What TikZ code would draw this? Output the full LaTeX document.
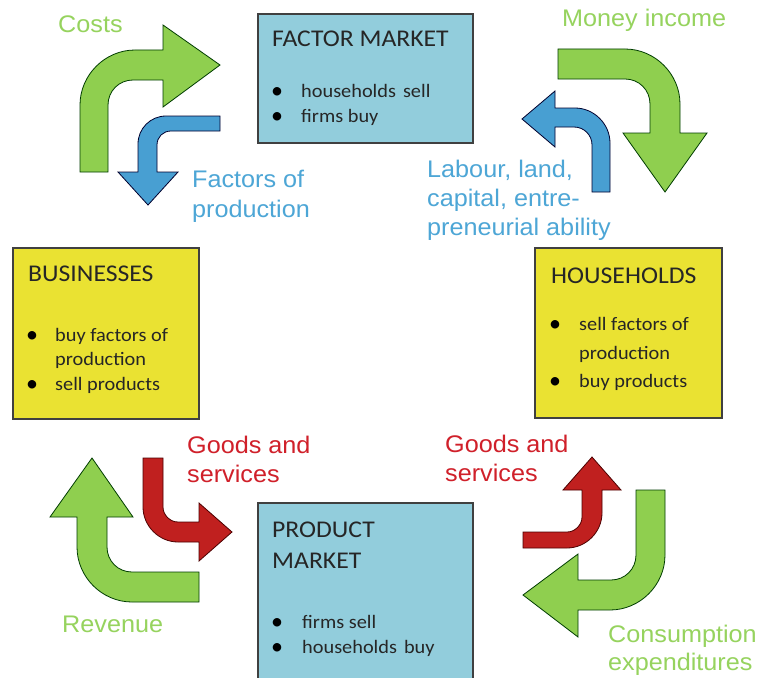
\documentclass[tikz,border=0pt]{standalone}
\usepackage{fontspec}
\usepackage{graphicx}
\setmainfont{Liberation Sans}
\newfontfamily\boxfont{Carlito}
\newcommand{\lstretch}[1]{\scalebox{1.05}[1]{#1}}
\newcommand{\bstretch}[1]{\scalebox{1.07}[1]{#1}}
\definecolor{boxblue}{HTML}{92CDDC}
\definecolor{boxyellow}{HTML}{EAE232}
\definecolor{agreen}{HTML}{8FCF4F}
\definecolor{ablue}{HTML}{489FD2}
\definecolor{ared}{HTML}{C0201F}
\definecolor{tgreen}{HTML}{96D35E}
\definecolor{tblue}{HTML}{4DA6D6}
\definecolor{tred}{HTML}{D0202A}
\tikzset{
  mbox/.style={draw=black!75, line width=1.1pt, inner sep=0pt, outer sep=0pt},
  labtext/.style={anchor=base west, inner sep=0pt, font=\fontsize{24}{29}\selectfont},
  boxtitle/.style={anchor=base west, inner sep=0pt, text=black!85, font=\boxfont\fontsize{24}{29}\selectfont},
  boxitem/.style={anchor=base west, inner sep=0pt, text=black!85, font=\boxfont\fontsize{19}{24}\selectfont},
  bul/.style={anchor=base, inner sep=0pt, text=black, font=\boxfont\fontsize{24}{24}\selectfont},
  garrow/.style={fill=agreen, draw=black!60!green!60!black, line width=0.8pt, line join=miter},
  barrow/.style={fill=ablue, draw=black!55!blue!40!black, line width=0.8pt, line join=miter},
  rarrow/.style={fill=ared, draw=black!70!red, line width=0.8pt, line join=miter},
}
\begin{document}
\begin{tikzpicture}[x=1pt, y=-1pt]
\useasboundingbox (0,0) rectangle (759,677);
\fill[white] (0,0) rectangle (759,677);

% boxes
\node[mbox, fill=boxblue, minimum width=215pt, minimum height=129pt] (factor) at (365.5,78.5) {};
\node[mbox, fill=boxyellow, minimum width=186pt, minimum height=171pt] (business) at (106,333.5) {};
\node[mbox, fill=boxyellow, minimum width=187pt, minimum height=170pt] (household) at (628.5,333) {};
\node[mbox, fill=boxblue, minimum width=215pt, minimum height=187pt] (product) at (365.5,596.5) {};

% arrows
% Costs (green, top left)
\draw[garrow] (80,172) -- (80,105) .. controls (80,75) and (105,50) .. (135,50) -- (163,50) -- (163,25) -- (220,65) -- (163,107) -- (163,80) -- (133,80) .. controls (119,80) and (108,91) .. (108,105) -- (108,172) -- cycle;
% Factors of production (blue, top left)
\draw[barrow] (220,116) -- (166,116) .. controls (150.5,116) and (138,128.5) .. (138,144) -- (138,172) -- (118,172) -- (148,205) -- (178,172) -- (157,172) -- (157,145) .. controls (157,137) and (163,131) .. (171,131) -- (220,131) -- cycle;
% Money income (green, top right)
\draw[garrow] (558,49) -- (625,49) .. controls (655,49) and (680,74) .. (680,104) -- (680,133) -- (707,133) -- (665,192) -- (623,133) -- (650,133) -- (650,104) .. controls (650,90) and (639,79) .. (625,79) -- (558,79) -- cycle;
% Labour (blue, top right)
\draw[barrow] (592,192) -- (592,145) .. controls (592,135) and (584,127) .. (574,127) -- (555,127) -- (555,147) -- (522,119) -- (555,91) -- (555,108) -- (575,108) .. controls (594,108) and (610,124) .. (610,143) -- (610,192) -- cycle;
% Revenue (green, bottom left)
\draw[garrow] (199,572) -- (132,572) .. controls (118,572) and (107,561) .. (107,547) -- (107,517) -- (133,517) -- (92,458) -- (50,517) -- (77,517) -- (77,547) .. controls (77,577) and (102,602) .. (132,602) -- (199,602) -- cycle;
% Goods and services (red, bottom left)
\draw[rarrow] (143,458) -- (163,458) -- (163,507) .. controls (163,515) and (170,522) .. (178,522) -- (199,522) -- (199,503) -- (232,532) -- (199,561) -- (199,542) -- (178,542) .. controls (159,542) and (143,526) .. (143,507) -- cycle;
% Goods and services (red, bottom right)
\draw[rarrow] (523,532) -- (567,532) .. controls (575,532) and (582,525) .. (582,517) -- (582,490) -- (563,490) -- (592,457) -- (621,490) -- (602,490) -- (602,513) .. controls (602,532) and (586,548) .. (567,548) -- (523,548) -- cycle;
% Consumption (green, bottom right)
\draw[garrow] (636,490) -- (665,490) -- (665,555) .. controls (665,585) and (640,610) .. (610,610) -- (578,610) -- (578,637) -- (523,595) -- (578,554) -- (578,580) -- (611,580) .. controls (625,580) and (636,569) .. (636,555) -- cycle;

% box texts
\node[boxtitle] (fmt) at (272,47) {\bstretch{FACTOR MARKET}};
\node[bul] (fmb1) at (277,98) {\textbullet};
\node[boxitem] (fmi1) at (301,97) {\bstretch{households\hspace{0.12em} sell}};
\node[bul] (fmb2) at (277,123) {\textbullet};
\node[boxitem] (fmi2) at (301,122) {\bstretch{firms buy}};

\node[boxtitle] (bt) at (28,281) {\bstretch{BUSINESSES}};
\node[bul] (bb1) at (32,342) {\textbullet};
\node[boxitem] (bi1) at (55,341) {\bstretch{buy factors of}};
\node[boxitem] (bi2) at (55,365) {\bstretch{production}};
\node[bul] (bb2) at (32,391) {\textbullet};
\node[boxitem] (bi3) at (55,390) {\bstretch{sell products}};

\node[boxtitle] (ht) at (551,283) {\bstretch{HOUSEHOLDS}};
\node[bul] (hb1) at (555,331) {\textbullet};
\node[boxitem] (hi1) at (579,330) {\bstretch{sell factors of}};
\node[boxitem] (hi2) at (579,359) {\bstretch{production}};
\node[bul] (hb2) at (555,388) {\textbullet};
\node[boxitem] (hi3) at (579,387) {\bstretch{buy products}};

\node[boxtitle] (pt1) at (272,537) {\bstretch{PRODUCT}};
\node[boxtitle] (pt2) at (272,568) {\bstretch{MARKET}};
\node[bul] (pb1) at (277,629) {\textbullet};
\node[boxitem] (pi1) at (302,628) {\bstretch{firms sell}};
\node[bul] (pb2) at (277,654) {\textbullet};
\node[boxitem] (pi2) at (302,653) {\bstretch{households\hspace{0.12em} buy}};

% flow labels
\node[labtext, text=tgreen] (costs) at (58,33) {\lstretch{Costs}};
\node[labtext, text=tblue] (fop1) at (192,187) {\lstretch{Factors of}};
\node[labtext, text=tblue] (fop2) at (192,217) {\lstretch{production}};
\node[labtext, text=tgreen] (money) at (562,27) {\lstretch{Money income}};
\node[labtext, text=tblue] (lab1) at (427,177) {\lstretch{Labour, land,}};
\node[labtext, text=tblue] (lab2) at (427,206) {\lstretch{capital, entre-}};
\node[labtext, text=tblue] (lab3) at (427,235) {\lstretch{preneurial ability}};
\node[labtext, text=tred] (gsl1) at (187,453) {\lstretch{Goods and}};
\node[labtext, text=tred] (gsl2) at (187,482) {\lstretch{services}};
\node[labtext, text=tred] (gsr1) at (445,452) {\lstretch{Goods and}};
\node[labtext, text=tred] (gsr2) at (445,481) {\lstretch{services}};
\node[labtext, text=tgreen] (rev) at (62,632) {\lstretch{Revenue}};
\node[labtext, text=tgreen] (cons1) at (608,642) {\lstretch{Consumption}};
\node[labtext, text=tgreen] (cons2) at (608,670) {\lstretch{expenditures}};
\end{tikzpicture}
\end{document}
